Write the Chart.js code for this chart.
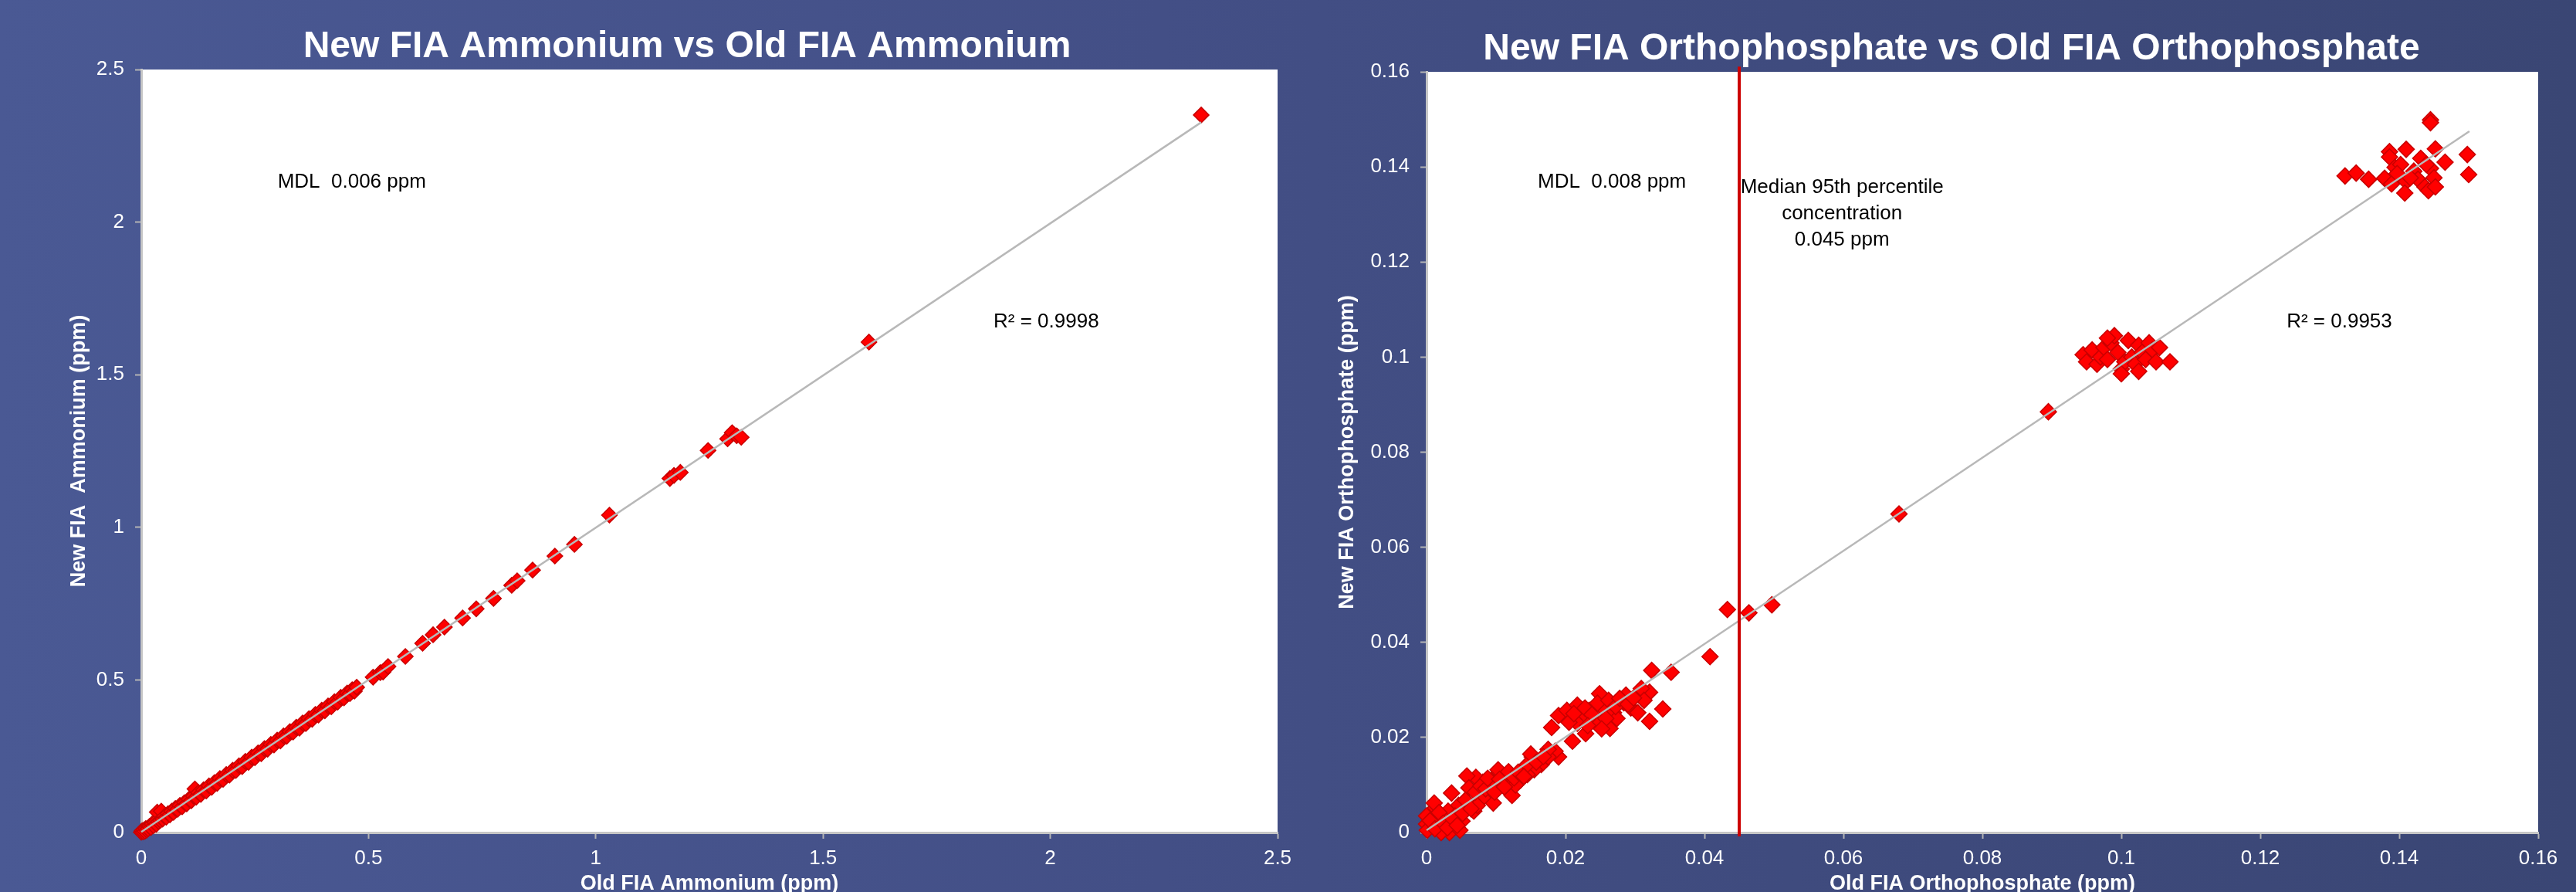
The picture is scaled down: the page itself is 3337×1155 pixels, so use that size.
<!DOCTYPE html>
<html>
<head>
<meta charset="utf-8">
<script src="https://cdn.jsdelivr.net/npm/chart.js@4.4.1/dist/chart.umd.min.js"></script>
<style>
  html, body { margin: 0; padding: 0; width: 3337px; height: 1155px; overflow: hidden; }
  body {
    position: relative;
    background: linear-gradient(to right, #4a5994 0%, #434f86 45%, #3a4674 100%);
  }
  canvas { position: absolute; top: 0; }
  #ammonium { left: 0; }
  #phosphate { left: 1660px; }
</style>
</head>
<body>
<canvas id="ammonium" width="1700" height="1180"></canvas>
<canvas id="phosphate" width="1677" height="1180"></canvas>
<script>
// ---- Ammonium comparison (ppm) ----
const ammoniumOld = [
  0.000, 0.002, 0.004, 0.006, 0.008, 0.010, 0.012, 0.015, 0.018, 0.021,
  0.024, 0.027, 0.030, 0.033, 0.035, 0.038, 0.042, 0.044, 0.047, 0.051,
  0.055, 0.059, 0.063, 0.067, 0.071, 0.075, 0.080, 0.085, 0.090, 0.095,
  0.100, 0.105, 0.110, 0.115, 0.118, 0.121, 0.126, 0.131, 0.137, 0.143,
  0.149, 0.155, 0.161, 0.167, 0.173, 0.180, 0.187, 0.194, 0.201, 0.208,
  0.215, 0.222, 0.229, 0.236, 0.243, 0.250, 0.257, 0.264, 0.271, 0.278,
  0.285, 0.292, 0.299, 0.306, 0.313, 0.320, 0.327, 0.334, 0.341, 0.348,
  0.355, 0.362, 0.369, 0.376, 0.383, 0.390, 0.397, 0.404, 0.411, 0.418,
  0.425, 0.432, 0.439, 0.446, 0.453, 0.459, 0.464, 0.469, 0.474,
  0.510, 0.526, 0.532, 0.543, 0.581, 0.619, 0.642, 0.667, 0.707, 0.737,
  0.775, 0.815, 0.827, 0.861, 0.910, 0.953, 1.030, 1.163, 1.172, 1.186,
  1.247, 1.290, 1.300, 1.310, 1.320, 1.601, 2.332
];
const ammoniumNew = [
  0.001, 0.006, 0.002, 0.009, 0.004, 0.013, 0.008, 0.012, 0.020, 0.016,
  0.028, 0.022, 0.033, 0.027, 0.067, 0.036, 0.040, 0.070, 0.044, 0.053,
  0.050, 0.062, 0.058, 0.070, 0.066, 0.079, 0.076, 0.089, 0.084, 0.098,
  0.094, 0.109, 0.104, 0.119, 0.143, 0.116, 0.131, 0.125, 0.140, 0.136,
  0.153, 0.148, 0.164, 0.161, 0.177, 0.174, 0.190, 0.188, 0.204, 0.203,
  0.219, 0.216, 0.233, 0.230, 0.247, 0.245, 0.261, 0.258, 0.275, 0.273,
  0.289, 0.287, 0.303, 0.300, 0.317, 0.315, 0.331, 0.329, 0.345, 0.342,
  0.359, 0.357, 0.373, 0.371, 0.387, 0.385, 0.401, 0.399, 0.415, 0.412,
  0.429, 0.427, 0.443, 0.441, 0.457, 0.455, 0.468, 0.463, 0.476,
  0.509, 0.524, 0.526, 0.544, 0.577, 0.620, 0.648, 0.673, 0.703, 0.733,
  0.767, 0.810, 0.825, 0.860, 0.906, 0.944, 1.040, 1.160, 1.170, 1.180,
  1.252, 1.290, 1.310, 1.300, 1.295, 1.607, 2.351
];
// linear trend line end points
const ammoniumFitOld = [0, 2.332];
const ammoniumFitNew = [0.002, 2.327];
const ammoniumTicks = [0, 0.5, 1, 1.5, 2, 2.5];

// ---- Orthophosphate comparison (ppm) ----
const phosphateOld = [
  0.1445, 0.1445, 0.1410, 0.1386, 0.1386, 0.1452, 0.1431, 0.1466, 0.1498, 0.1500,
  0.1322, 0.1338, 0.1356, 0.1379, 0.1389, 0.1394, 0.1402, 0.1410, 0.1408, 0.1421,
  0.1427, 0.1437, 0.1442, 0.1445, 0.1450, 0.1452, 0.1439, 0.1416, 0.1397,
  0.0945, 0.0950, 0.0958, 0.0965, 0.0970, 0.0975, 0.0980, 0.0985, 0.0990, 0.0995,
  0.1000, 0.1005, 0.1010, 0.1015, 0.1020, 0.1025, 0.1030, 0.1035, 0.1040, 0.1045,
  0.1050, 0.1055, 0.1000, 0.1025, 0.1070, 0.0980,
  0.0895, 0.0680, 0.0497, 0.0464, 0.0433, 0.0408, 0.0352, 0.0324,
  0.0340, 0.0321, 0.0321, 0.0309, 0.0287, 0.0249, 0.0180, 0.0190, 0.0202, 0.0217,
  0.0210, 0.0229, 0.0264, 0.0244, 0.0224, 0.0234, 0.0254, 0.0269, 0.0284, 0.0294,
  0.0304, 0.0313, 0.0274, 0.0217, 0.0190, 0.0185, 0.0152, 0.0165, 0.0155, 0.0145,
  0.0135, 0.0120, 0.0103, 0.0110, 0.0123, 0.0096, 0.0091, 0.0081, 0.0071, 0.0058,
  0.0061, 0.0036, 0.0068, 0.0046, 0.0051, 0.0076, 0.0031, 0.0021, 0.0011, 0.0001,
  0.0000, 0.0009, 0.0016, 0.0026, 0.0033, 0.0048, 0.0001, 0.0021, 0.0041, 0.0061,
  0.0011, 0.0000, 0.0145, 0.0100, 0.0093, 0.0115, 0.0128, 0.0081, 0.0073, 0.0175,
  0.0150, 0.0175,
  0.0005, 0.0012, 0.0018, 0.0024, 0.0030, 0.0038, 0.0044, 0.0052, 0.0056, 0.0064,
  0.0070, 0.0078, 0.0085, 0.0088, 0.0098, 0.0105, 0.0112, 0.0118, 0.0126, 0.0132,
  0.0140, 0.0158, 0.0168, 0.0205, 0.0212, 0.0228, 0.0238, 0.0246, 0.0258, 0.0262,
  0.0272, 0.0278, 0.0290, 0.0298, 0.0232, 0.0252
];
const phosphateNew = [
  0.1499, 0.1493, 0.1437, 0.1432, 0.1421, 0.1438, 0.1418, 0.1410, 0.1426, 0.1384,
  0.1381, 0.1387, 0.1374, 0.1376, 0.1364, 0.1399, 0.1405, 0.1369, 0.1345, 0.1391,
  0.1374, 0.1358, 0.1350, 0.1397, 0.1377, 0.1358, 0.1405, 0.1377, 0.1386,
  0.1005, 0.0990, 0.1015, 0.0985, 0.1000, 0.1020, 0.0995, 0.1030, 0.1045, 0.1010,
  0.0975, 0.0990, 0.1035, 0.1000, 0.0985, 0.1025, 0.1010, 0.0995, 0.1030, 0.1015,
  0.0990, 0.1020, 0.0965, 0.0970, 0.0990, 0.1040,
  0.0885, 0.0670, 0.0479, 0.0462, 0.0469, 0.0370, 0.0337, 0.0341,
  0.0260, 0.0234, 0.0295, 0.0303, 0.0289, 0.0292, 0.0221, 0.0246, 0.0257, 0.0268,
  0.0192, 0.0208, 0.0219, 0.0230, 0.0240, 0.0257, 0.0262, 0.0252, 0.0273, 0.0262,
  0.0252, 0.0278, 0.0240, 0.0230, 0.0159, 0.0171, 0.0159, 0.0143, 0.0132, 0.0122,
  0.0110, 0.0106, 0.0132, 0.0116, 0.0078, 0.0062, 0.0089, 0.0106, 0.0116, 0.0119,
  0.0094, 0.0083, 0.0045, 0.0057, 0.0024, 0.0078, 0.0045, 0.0035, 0.0049, 0.0035,
  0.0018, 0.0013, 0.0024, 0.0013, 0.0000, 0.0005, 0.0005, 0.0000, 0.0035, 0.0057,
  0.0062, 0.0035, 0.0143, 0.0100, 0.0110, 0.0122, 0.0100, 0.0073, 0.0057, 0.0159,
  0.0165, 0.0175,
  0.0025, 0.0008, 0.0042, 0.0020, 0.0010, 0.0028, 0.0015, 0.0040, 0.0068, 0.0050,
  0.0085, 0.0098, 0.0092, 0.0114, 0.0085, 0.0112, 0.0096, 0.0128, 0.0115, 0.0127,
  0.0118, 0.0148, 0.0160, 0.0232, 0.0250, 0.0262, 0.0248, 0.0272, 0.0240, 0.0278,
  0.0265, 0.0282, 0.0270, 0.0283, 0.0225, 0.0218
];
const phosphateFitOld = [0, 0.1501];
const phosphateFitNew = [0.0005, 0.1475];
// median 95th percentile concentration marker
const medianP95 = 0.045;
const phosphateTicks = [0, 0.02, 0.04, 0.06, 0.08, 0.1, 0.12, 0.14, 0.16];

const FONT = '"Liberation Sans", Arial, Helvetica, sans-serif';
const toPoints = (xs, ys) => xs.map((v, i) => ({ x: v, y: ys[i] }));

// white plotting area behind everything
const plotBackground = {
  id: 'plotBackground',
  beforeDraw(chart) {
    const { ctx, chartArea: a } = chart;
    ctx.save();
    ctx.fillStyle = '#ffffff';
    ctx.fillRect(a.left, a.top, a.right - a.left, a.bottom - a.top);
    ctx.restore();
  }
};

// chart heading, centred a little left of the plotting area
const heading = {
  id: 'heading',
  afterDraw(chart, args, opts) {
    const { ctx, chartArea: a } = chart;
    ctx.save();
    ctx.fillStyle = '#ffffff';
    ctx.font = 'bold 48px ' + FONT;
    ctx.textAlign = 'center';
    ctx.textBaseline = 'alphabetic';
    ctx.fillText(opts.text, (a.left + a.right) / 2 + opts.shift, opts.baseline);
    ctx.restore();
  }
};

// free text placed in data coordinates
const notes = {
  id: 'notes',
  afterDatasetsDraw(chart, args, opts) {
    const { ctx, scales: { x, y } } = chart;
    ctx.save();
    ctx.fillStyle = '#000000';
    ctx.font = '26px ' + FONT;
    ctx.textBaseline = 'middle';
    opts.items.forEach(it => {
      ctx.textAlign = it.align || 'left';
      ctx.fillText(it.text, x.getPixelForValue(it.x), y.getPixelForValue(it.y));
    });
    ctx.restore();
  }
};

function fmt(v) { return String(+v.toFixed(4)); }

function buildChart(el, cfg) {
  const gridOpts = {
    display: true, drawOnChartArea: false, drawTicks: true,
    tickLength: 8, tickColor: '#b4b4b4', tickWidth: 2
  };
  const borderOpts = { display: true, color: '#c6c6c6', width: 3 };
  return new Chart(document.getElementById(el), {
    type: 'scatter',
    data: {
      datasets: [
        ...(cfg.marker ? [{
          data: cfg.marker, showLine: true, borderColor: '#cc0000', borderWidth: 4,
          pointRadius: 0, clip: false, order: 0
        }] : []),
        {
          data: cfg.fit, showLine: true, borderColor: '#b8b8b8', borderWidth: 2.5,
          pointRadius: 0, clip: false, order: 1
        },
        {
          data: cfg.points, pointStyle: 'rectRot', pointRadius: cfg.radius,
          backgroundColor: '#ff0000', borderColor: '#c80000', borderWidth: 1.5,
          clip: false, order: 2
        }
      ]
    },
    options: {
      responsive: false, animation: false, devicePixelRatio: 1, events: [],
      layout: { padding: { top: cfg.top, right: cfg.right, bottom: 0, left: 0 } },
      scales: {
        x: {
          type: 'linear', min: cfg.xTicks[0], max: cfg.xTicks[cfg.xTicks.length - 1],
          afterBuildTicks: s => { s.ticks = cfg.xTicks.map(v => ({ value: v })); },
          ticks: { color: '#ffffff', font: { family: FONT, size: 26 }, padding: 10,
                   maxRotation: 0, autoSkip: false, callback: fmt },
          grid: gridOpts, border: borderOpts,
          title: { display: true, text: cfg.xTitle, color: '#ffffff',
                   font: { family: FONT, size: 27, weight: 'bold' },
                   padding: { top: 0, bottom: 19 } },
          afterFit: s => { s.height = 102; s.paddingLeft = 0; s.paddingRight = 0; }
        },
        y: {
          type: 'linear', min: cfg.yTicks[0], max: cfg.yTicks[cfg.yTicks.length - 1],
          afterBuildTicks: s => { s.ticks = cfg.yTicks.map(v => ({ value: v })); },
          ticks: { color: '#ffffff', font: { family: FONT, size: 26 }, padding: 14,
                   autoSkip: false, callback: fmt },
          grid: gridOpts, border: borderOpts,
          title: { display: true, text: cfg.yTitle, color: '#ffffff',
                   font: { family: FONT, size: 27, weight: 'bold' },
                   padding: { top: cfg.yTitlePad, bottom: 0 } },
          afterFit: s => { s.width = cfg.yWidth; s.paddingTop = 0; s.paddingBottom = 0; }
        }
      },
      plugins: {
        legend: { display: false },
        tooltip: { enabled: false },
        heading: { text: cfg.title, shift: cfg.titleShift, baseline: cfg.titleBaseline },
        notes: { items: cfg.notes }
      }
    },
    plugins: [plotBackground, heading, notes]
  });
}

buildChart('ammonium', {
  title: 'New FIA Ammonium vs Old FIA Ammonium', titleShift: -29, titleBaseline: 74,
  xTitle: 'Old FIA Ammonium (ppm)', yTitle: 'New FIA  Ammonium (ppm)',
  xTicks: ammoniumTicks, yTicks: ammoniumTicks,
  points: toPoints(ammoniumOld, ammoniumNew),
  fit: toPoints(ammoniumFitOld, ammoniumFitNew),
  radius: 10, top: 90, right: 45, yWidth: 183, yTitlePad: 86,
  notes: [
    { text: 'MDL  0.006 ppm', x: 0.30, y: 2.13 },
    { text: 'R² = 0.9998', x: 1.875, y: 1.673 }
  ]
});

buildChart('phosphate', {
  title: 'New FIA Orthophosphate vs Old FIA Orthophosphate', titleShift: -40, titleBaseline: 77,
  xTitle: 'Old FIA Orthophosphate (ppm)', yTitle: 'New FIA Orthophosphate (ppm)',
  xTicks: phosphateTicks, yTicks: phosphateTicks,
  points: toPoints(phosphateOld, phosphateNew),
  fit: toPoints(phosphateFitOld, phosphateFitNew),
  marker: toPoints([medianP95, medianP95], [0.1611, -0.0008]),
  radius: 10.5, top: 93, right: 49, yWidth: 188, yTitlePad: 69,
  notes: [
    { text: 'MDL  0.008 ppm', x: 0.016, y: 0.1368 },
    { text: 'Median 95th percentile', x: 0.0598, y: 0.1356, align: 'center' },
    { text: 'concentration', x: 0.0598, y: 0.1301, align: 'center' },
    { text: '0.045 ppm', x: 0.0598, y: 0.1246, align: 'center' },
    { text: 'R² = 0.9953', x: 0.1238, y: 0.1074 }
  ]
});
</script>
</body>
</html>
